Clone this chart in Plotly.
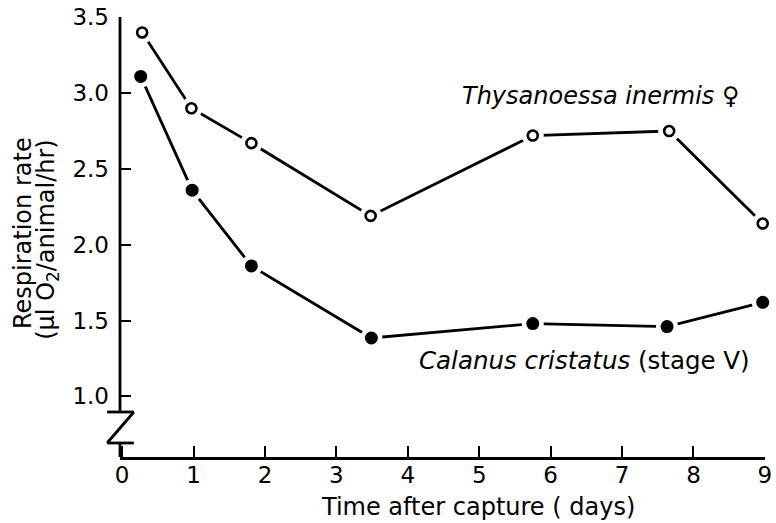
import plotly.graph_objects as go

# Data
thy_days = [0.28, 0.97, 1.81, 3.48, 5.75, 7.66, 8.97]
thy_rate = [3.40, 2.90, 2.67, 2.19, 2.72, 2.75, 2.14]
cal_days = [0.26, 0.98, 1.81, 3.49, 5.75, 7.63, 8.97]
cal_rate = [3.11, 2.36, 1.86, 1.385, 1.48, 1.46, 1.62]
x_ticks = [0, 1, 2, 3, 4, 5, 6, 7, 8, 9]
y_ticks = [1.0, 1.5, 2.0, 2.5, 3.0, 3.5]
y_tick_text = ["1.0", "1.5", "2.0", "2.5", "3.0", "3.5"]

FONT = "DejaVu Sans"
W, H = 776, 523
# plot area in screenshot pixels: x 120..772, y 17..457
ML, MR, MT, MB = 120, 4, 17, 66

fig = go.Figure()

for xs, ys, filled in [(thy_days, thy_rate, False), (cal_days, cal_rate, True)]:
    fig.add_trace(go.Scatter(x=xs, y=ys, mode="lines",
                             line=dict(color="black", width=2.8),
                             hoverinfo="skip", showlegend=False, cliponaxis=False))
    # white halo to create gaps between line and markers
    fig.add_trace(go.Scatter(x=xs, y=ys, mode="markers",
                             marker=dict(size=22, color="white", line=dict(width=0)),
                             hoverinfo="skip", showlegend=False, cliponaxis=False))
    fig.add_trace(go.Scatter(x=xs, y=ys, mode="markers",
                             marker=dict(size=13 if filled else 10,
                                         color="black" if filled else "white",
                                         line=dict(color="black", width=0 if filled else 2.6)),
                             showlegend=False, cliponaxis=False))

pw = W - ML - MR
ph = H - MT - MB
def px_x(p):  # screenshot x pixel -> paper
    return (p - ML) / pw
def px_y(p):  # screenshot y pixel -> paper
    return (H - MB - p) / ph

shapes = [
    # y axis with break
    dict(type="line", xref="paper", yref="paper", x0=0, x1=0, y0=1, y1=px_y(412)),
    dict(type="line", xref="paper", yref="paper", x0=px_x(107), x1=px_x(134), y0=px_y(412), y1=px_y(412)),
    dict(type="line", xref="paper", yref="paper", x0=px_x(134), x1=px_x(107), y0=px_y(412), y1=px_y(443)),
    dict(type="line", xref="paper", yref="paper", x0=px_x(107), x1=px_x(134), y0=px_y(443), y1=px_y(443)),
    dict(type="line", xref="paper", yref="paper", x0=0, x1=0, y0=px_y(443), y1=0),
]
for s in shapes:
    s["line"] = dict(color="black", width=2.8)

fig.update_layout(
    width=W, height=H,
    margin=dict(l=ML, r=MR, t=MT, b=MB),
    paper_bgcolor="white", plot_bgcolor="white",
    font=dict(family=FONT, color="black", size=23),
    shapes=shapes,
    xaxis=dict(range=[-0.03, 9.002], tickvals=x_ticks, ticks="inside", ticklen=11,
               tickwidth=2.4, tickcolor="black", showline=True, linecolor="black",
               linewidth=2.8, showgrid=False, zeroline=False, ticklabelstandoff=-5,
               ticklabeloverflow="allow",
               tickfont=dict(size=23, family=FONT)),
    yaxis=dict(range=[0.60, 3.502], tickvals=y_ticks, ticktext=y_tick_text, ticks="inside",
               ticklen=11, tickwidth=2.4, tickcolor="black", showline=False,
               showgrid=False, zeroline=False, ticklabelstandoff=10,
               ticklabeloverflow="allow",
               tickfont=dict(size=23, family=FONT)),
    annotations=[
        dict(text="Time after capture ( days)", xref="paper", yref="paper",
             x=px_x(482), y=px_y(507), showarrow=False, xanchor="center", yanchor="middle",
             font=dict(size=24, family=FONT)),
        dict(text="Respiration rate", xref="paper", yref="paper",
             x=px_x(22), y=px_y(233), showarrow=False, textangle=-90,
             xanchor="center", yanchor="middle", font=dict(size=24, family=FONT)),
        dict(text="(µl O<sub>2</sub>/animal/hr)", xref="paper", yref="paper",
             x=px_x(46), y=px_y(240), showarrow=False, textangle=-90,
             xanchor="center", yanchor="middle", font=dict(size=24, family=FONT)),
        dict(text="<i>Thysanoessa inermis</i> ♀", xref="paper", yref="paper",
             x=px_x(749), y=px_y(96), showarrow=False, xanchor="right", yanchor="middle",
             font=dict(size=24, family=FONT)),
        dict(text="<i>Calanus cristatus</i> (stage V)", xref="paper", yref="paper",
             x=px_x(759), y=px_y(360), showarrow=False, xanchor="right", yanchor="middle",
             font=dict(size=24.5, family=FONT)),
    ],
)

fig.write_html("out.html", config={"displayModeBar": False},
               post_script="document.body.style.margin='0';document.body.style.overflow='hidden';")
